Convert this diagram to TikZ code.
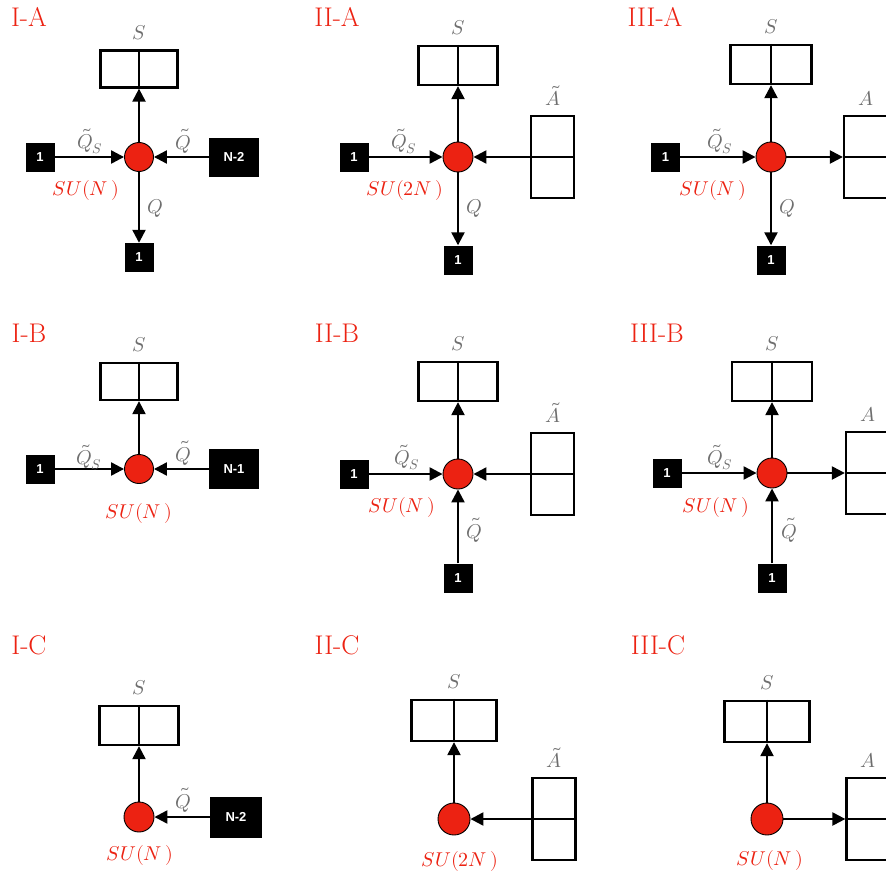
\documentclass[tikz,border=0pt]{standalone}
\usepackage{fontspec}
\usepackage{unicode-math}
\setmathfont{Latin Modern Math}
\newfontfamily\boxfont{Liberation Sans}
\usetikzlibrary{arrows.meta}

\definecolor{quiverRed}{RGB}{236,34,18}
\definecolor{quiverGray}{RGB}{110,110,110}

\begin{document}
\begin{tikzpicture}
[x=1pt,y=-1pt,%
  arrowDecorate/.style={-{Triangle[length=13pt,width=13pt]},line width=2.3pt},%
  lineDecorate/.style={-,line width=2.3pt},%
  gaugeDecorate/.style={shape=circle,fill=quiverRed,draw,line width=0.9pt,minimum size=29pt,inner sep=0pt},%
  flavorDecorate/.style={shape=rectangle,fill=black,text=white,font=\boxfont\bfseries\fontsize{13}{15}\selectfont,minimum size=29pt,inner sep=0pt},%
  symDecorate/.style={shape=rectangle,draw,line width=2.3pt,minimum width=77pt,minimum height=37pt,inner sep=0pt},%
  antiDecorate/.style={shape=rectangle,draw,line width=2.3pt,minimum width=43pt,minimum height=82pt,inner sep=0pt},%
  fieldLabel/.style={text=quiverGray,font=\fontsize{20}{22}\selectfont,inner sep=0pt},%
  groupLabel/.style={text=quiverRed,font=\fontsize{20}{22}\selectfont,inner sep=0pt},%
  panelTitle/.style={text=quiverRed,font=\fontsize{27}{30}\selectfont,inner sep=0pt}]
\clip (0,0) rectangle (886,875);
%% panel titles
\foreach \name/\x/\y/\txt in {
  tIA/29/17/I-A, tIIA/337/17/II-A, tIIIA/655/17/III-A,
  tIB/29/333/I-B, tIIB/337/333/II-B, tIIIB/657/333/III-B,
  tIC/29/645/I-C, tIIC/337/645/II-C, tIIIC/658/645/III-C}
{
  \node[panelTitle] (\name) at (\x,\y) {\txt};
}
%% gauge nodes
\foreach \name/\x/\y/\r in {
  gIA/139/157/29, gIIA/458/157/30, gIIIA/771/157/30,
  gIB/139/469/29, gIIB/458/474/30, gIIIB/772/473/30,
  gIC/139/817/30, gIIC/454/819/32, gIIIC/767/819/32}
{
  \node[gaugeDecorate,minimum size=\r pt] (\name) at (\x,\y) {};
}
%% symmetric boxes and their labels
\foreach \name/\x/\y/\w/\h in {
  sIA/139/69/77/37, sIIA/458/65.5/79/39, sIIIA/771/64.5/81/39,
  sIB/139/381.5/77/37, sIIB/458/381.5/79/39, sIIIB/772/381.5/80/39,
  sIC/139/725.5/79/39, sIIC/454/720.5/85/41, sIIIC/767/721.5/85/41}
{
  \node[symDecorate,minimum width=\w pt,minimum height=\h pt] (\name) at (\x,\y) {};
  \draw[lineDecorate] (\name.north) -- (\name.south);
  \node[fieldLabel,anchor=base] at ([yshift=10pt]\name.north) {$S$};
}
%% antisymmetric boxes and their labels
\foreach \name/\x/\y/\txt in {
  aIIA/552.5/157/\tilde{A}, aIIIA/865.5/157/A,
  aIIB/552.5/474/\tilde{A}, aIIIB/867.5/473/A,
  aIIC/554/819/\tilde{A}, aIIIC/868/819/A}
{
  \node[antiDecorate] (\name) at (\x,\y) {};
  \draw[lineDecorate] (\name.west) -- (\name.east);
  \node[fieldLabel,anchor=base] at ([yshift=9pt]\name.north) {$\txt$};
}
%% flavour boxes
\foreach \name/\x/\y/\txt in {
  lIA/40/157/1, bIA/139/257.5/1,
  lIIA/354/157/1, bIIA/458/260/1,
  lIIIA/665.5/157/1, bIIIA/771/260/1,
  lIB/40/469/1, lIIB/354/474/1, bIIB/458/578/1,
  lIIIB/667/473/1, bIIIB/772/578/1}
{
  \node[flavorDecorate] (\name) at (\x,\y) {\txt};
}
\node[flavorDecorate,minimum width=50pt,minimum height=39pt] (rIA) at (234,157) {N-2};
\node[flavorDecorate,minimum width=50pt,minimum height=40pt] (rIB) at (234,469) {N-1};
\node[flavorDecorate,minimum width=52pt,minimum height=41pt] (rIC) at (236,817) {N-2};
%% arrows
\foreach \from/\to in {
  lIA/gIA, rIA/gIA, gIA/sIA.south, gIA/bIA,
  lIIA/gIIA, aIIA.west/gIIA, gIIA/sIIA.south, gIIA/bIIA,
  lIIIA/gIIIA, gIIIA/aIIIA.west, gIIIA/sIIIA.south, gIIIA/bIIIA,
  lIB/gIB, rIB/gIB, gIB/sIB.south,
  lIIB/gIIB, aIIB.west/gIIB, gIIB/sIIB.south, bIIB/gIIB,
  lIIIB/gIIIB, gIIIB/aIIIB.west, gIIIB/sIIIB.south, bIIIB/gIIIB,
  rIC/gIC, gIC/sIC.south,
  aIIC.west/gIIC, gIIC/sIIC.south,
  gIIIC/aIIIC.west, gIIIC/sIIIC.south}
{
  \draw[arrowDecorate] (\from) -- (\to);
}
%% field labels
\node[fieldLabel] at (90,141) {$\tilde{Q}_S$};
\node[fieldLabel] at (183.5,141) {$\tilde{Q}$};
\node[fieldLabel] at (155,208) {$Q$};
\node[fieldLabel] at (404,141) {$\tilde{Q}_S$};
\node[fieldLabel] at (474,208) {$Q$};
\node[fieldLabel] at (720,141) {$\tilde{Q}_S$};
\node[fieldLabel] at (787,208) {$Q$};
\node[fieldLabel] at (89,457) {$\tilde{Q}_S$};
\node[fieldLabel] at (183,453) {$\tilde{Q}$};
\node[fieldLabel] at (407,457) {$\tilde{Q}_S$};
\node[fieldLabel] at (474,530) {$\tilde{Q}$};
\node[fieldLabel] at (720,457) {$\tilde{Q}_S$};
\node[fieldLabel] at (789,530) {$\tilde{Q}$};
\node[fieldLabel] at (183,800) {$\tilde{Q}$};
%% gauge group labels
\node[groupLabel] at (86,190) {$SU(N\,)$};
\node[groupLabel] at (405,190) {$SU(2N\,)$};
\node[groupLabel] at (713,190) {$SU(N\,)$};
\node[groupLabel] at (139,513) {$SU(N\,)$};
\node[groupLabel] at (402,507) {$SU(N\,)$};
\node[groupLabel] at (716,507) {$SU(N\,)$};
\node[groupLabel] at (140,855) {$SU(N\,)$};
\node[groupLabel] at (460,861) {$SU(2N\,)$};
\node[groupLabel] at (770,860) {$SU(N\,)$};
\end{tikzpicture}
\end{document}
